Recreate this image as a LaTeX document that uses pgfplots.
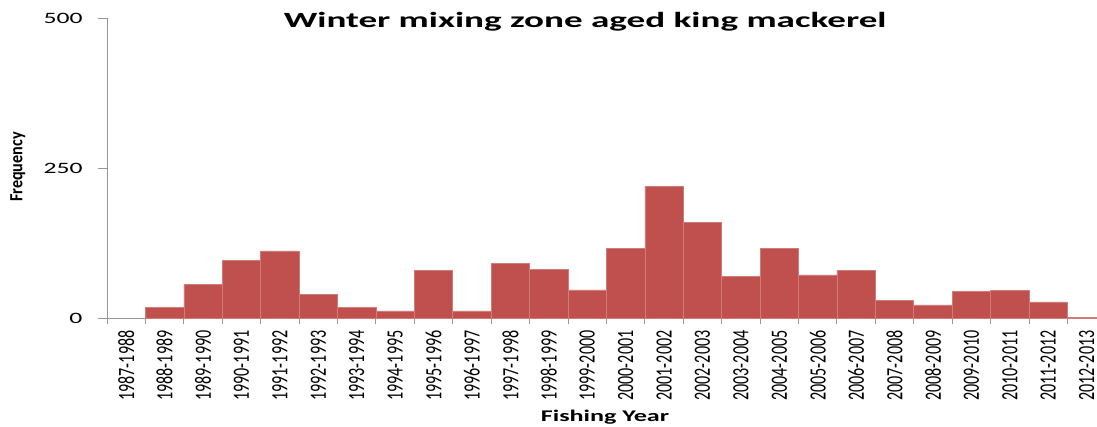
\documentclass[border=0pt]{standalone}
\usepackage{fontspec}
\setmainfont{Carlito}
\newfontfamily\tickfont{Carlito}[FakeStretch=0.69]
\newfontfamily\yfont{Carlito}[FakeStretch=1.62]
\newfontfamily\titlefont{Carlito}[FakeStretch=1.71]
\newfontfamily\xlabfont{Carlito}[FakeStretch=1.6]
\newfontfamily\ylabfont{Carlito}[FakeStretch=0.87]
\usepackage{pgfplots}
\pgfplotsset{compat=1.18}
\definecolor{barred}{HTML}{C0504D}
\definecolor{axiscol}{HTML}{969696}
\begin{document}
\begin{tikzpicture}
\useasboundingbox (0,0) rectangle (1097pt,426pt);
\begin{axis}[
  at={(107pt,108pt)}, anchor=south west,
  scale only axis, width=990pt, height=300pt,
  xmin=0, xmax=25.77, ymin=0, ymax=500,
  axis lines*=left,
  axis line style={draw=axiscol, line width=1pt},
  tick align=outside,
  major tick length=9pt,
  minor tick length=6pt,
  ytick={0,250,500},
  ytick style={draw=axiscol, line width=1pt},
  /pgf/number format/assume math mode=true,
  yticklabel style={font=\yfont\fontsize{15.8}{16}\selectfont, xshift=-12pt},
  xtick={0.5,1.5,...,25.5},
  xticklabels={1987-1988,1988-1989,1989-1990,1990-1991,1991-1992,1992-1993,1993-1994,1994-1995,1995-1996,1996-1997,1997-1998,1998-1999,1999-2000,2000-2001,2001-2002,2002-2003,2003-2004,2004-2005,2005-2006,2006-2007,2007-2008,2008-2009,2009-2010,2010-2011,2011-2012,2012-2013},
  major x tick style={draw=none},
  minor xtick={0,1,...,25},
  minor x tick style={draw=axiscol, line width=1pt},
  xticklabel style={rotate=90, anchor=east, inner ysep=0pt, font=\tickfont\fontsize{23.3}{24}\selectfont},
  title={\titlefont\bfseries\fontsize{21.7}{24}\selectfont Winter mixing zone aged king mackerel},
  title style={at={(axis description cs:0.483,1)}, anchor=center, yshift=-10pt},
  xlabel={\xlabfont\bfseries\fontsize{16.3}{18}\selectfont Fishing Year},
  xlabel style={at={(axis description cs:0.503,-0.33)}, anchor=center},
  ylabel={\ylabfont\bfseries\fontsize{18.6}{20}\selectfont Frequency},
  ylabel style={at={(axis description cs:-0.09,0.503)}, anchor=center},
]
\addplot[ybar, bar width=1, fill=barred, draw=barred!75!white, line width=0.6pt]
coordinates {
(1.5,18) (2.5,56) (3.5,96) (4.5,112) (5.5,40) (6.5,18) (7.5,12) (8.5,79)
(9.5,12) (10.5,91) (11.5,81) (12.5,47) (13.5,116) (14.5,220) (15.5,159)
(16.5,69) (17.5,116) (18.5,72) (19.5,79) (20.5,30) (21.5,22) (22.5,44)
(23.5,46) (24.5,27) (25.5,1.5)
};
\end{axis}
\end{tikzpicture}
\end{document}
